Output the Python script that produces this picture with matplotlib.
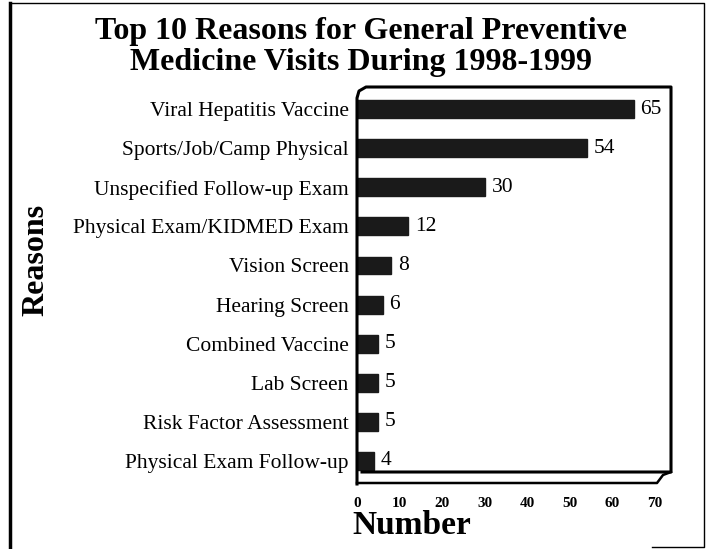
import matplotlib.pyplot as plt
from matplotlib.lines import Line2D

reasons = ["Viral Hepatitis Vaccine", "Sports/Job/Camp Physical", "Unspecified Follow-up Exam",
           "Physical Exam/KIDMED Exam", "Vision Screen", "Hearing Screen", "Combined Vaccine",
           "Lab Screen", "Risk Factor Assessment", "Physical Exam Follow-up"]
counts = [65, 54, 30, 12, 8, 6, 5, 5, 5, 4]
xticks = [0, 10, 20, 30, 40, 50, 60, 70]

plt.rcParams['font.family'] = ['Liberation Serif', 'DejaVu Serif']

W, H = 706, 549
fig = plt.figure(figsize=(W / 100, H / 100), dpi=100)

def fx(x):
    return x / W

def fy(y):
    return 1 - y / H

# plot area in pixels: x 0->357, 70->655 ; rows from y=88 to 486
ax = fig.add_axes([fx(357), fy(486), fx(655) - fx(357), (486 - 88) / H])
pos = list(range(len(reasons)))
ax.barh(pos, counts, height=0.46, color='#1a1a1a', edgecolor='#1a1a1a')
ax.set_xlim(0, 70)
ax.set_ylim(9.64, -0.54)
for s in ax.spines.values():
    s.set_visible(False)
ax.set_yticks(pos)
ax.set_yticklabels(reasons, fontsize=15.5)
ax.tick_params(axis='y', length=0, pad=6)
ax.set_xticks(xticks)
ax.set_xticklabels([str(t) for t in xticks], fontsize=11, fontweight='bold')
ax.tick_params(axis='x', length=0, pad=8)
for i, v in enumerate(counts):
    ax.text(v + 1.6, i, str(v), va='center', ha='left', fontsize=15.5)

fig.text(fx(412), fy(526), "Number", fontsize=24, fontweight='bold', ha='center', va='center')
fig.text(fx(36), fy(260), "Reasons", rotation=90, fontsize=23, fontweight='bold',
         ha='center', va='center')
fig.text(fx(361), fy(47), "Top 10 Reasons for General Preventive\nMedicine Visits During 1998-1999",
         ha='center', va='center', fontsize=23, fontweight='bold', linespacing=1.1)

# 3D frame
def line(xs, ys, lw=1.6):
    fig.add_artist(Line2D([fx(x) for x in xs], [fy(y) for y in ys], color='black', lw=lw,
                          transform=fig.transFigure))

line([357, 357, 359, 366, 671, 671, 362], [484, 98, 91, 87, 87, 472, 472], lw=2.2)
line([357, 657, 663, 671], [483, 483, 475, 472], lw=1.8)

# outer border
line([10, 10], [3, 549], lw=2.5)
line([10, 704, 704, 652], [3, 3, 547, 547], lw=1.0)

fig.savefig("out.png", dpi=100)
